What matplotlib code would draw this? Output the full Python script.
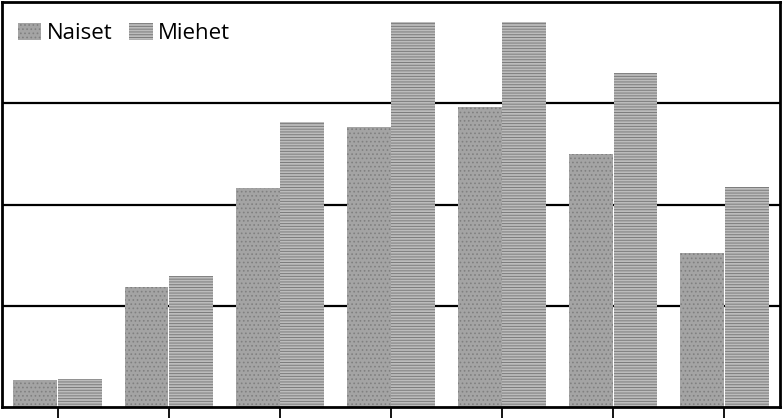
import numpy as np
import matplotlib.pyplot as plt

groups = ["1", "2", "3", "4", "5", "6", "7"]
naiset = [2.7, 11.9, 21.6, 27.7, 29.6, 25.0, 15.2]
miehet = [2.8, 12.9, 28.1, 38.0, 38.0, 33.0, 21.7]

plt.rcParams['font.family'] = ['Open Sans', 'DejaVu Sans']
plt.rcParams['hatch.linewidth'] = 0.7

fig = plt.figure(figsize=(7.83, 4.2), dpi=100)
ax = fig.add_axes([2 / 783, 13 / 420, 778 / 783, 405 / 420])

x = np.arange(len(groups))
w = 0.4
gap = 0.006
ax.bar(x - w / 2, naiset, w - gap, color='#a4a4a4', edgecolor='#808080', linewidth=0,
       hatch='....', label='Naiset', zorder=2)
ax.bar(x + w / 2, miehet, w - gap, color='#bcbcbc', edgecolor='#7c7c7c', linewidth=0,
       hatch='------', label='Miehet', zorder=2)

ax.set_xlim(-0.5, len(groups) - 0.5)
ax.set_ylim(0, 40)
ax.set_yticks([10, 20, 30])
ax.yaxis.grid(True, color='black', linewidth=1.6, zorder=1)
ax.set_axisbelow(True)
ax.tick_params(axis='y', length=0, labelleft=False)
ax.set_xticks(x)
ax.tick_params(axis='x', direction='out', length=8, width=1.3, labelbottom=False)
for s in ax.spines.values():
    s.set_linewidth(2)

ax.legend(loc='upper left', bbox_to_anchor=(-0.005, 0.998), frameon=False, ncol=2,
          fontsize=16, handlelength=1.05, handleheight=0.8, handletextpad=0.25,
          columnspacing=0.75)

fig.savefig('out.png', dpi=100)
